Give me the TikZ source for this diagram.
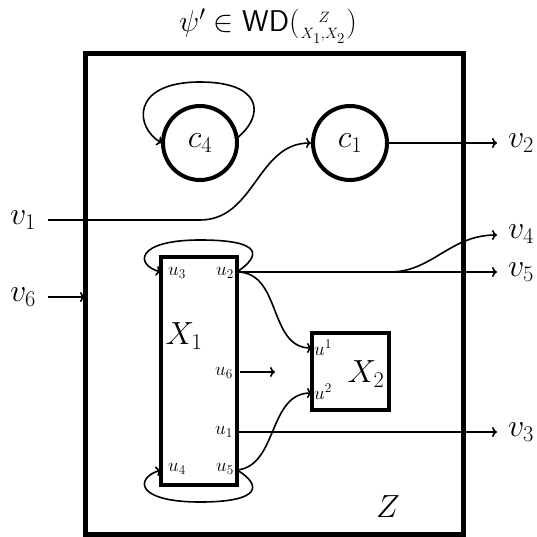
\RequirePackage{fix-cm}
\documentclass[tikz,border=0pt]{standalone}
\usepackage{amsmath}
\usetikzlibrary{arrows.meta}
\begin{document}
\begin{tikzpicture}[x=1pt,y=-1pt,
  big/.style={font=\fontsize{32}{36}\selectfont, inner sep=0pt},
  small/.style={font=\fontsize{19}{22}\selectfont, inner sep=0pt},
  circ/.style={draw, circle, line width=4pt, minimum size=74pt, inner sep=0pt, font=\fontsize{32}{36}\selectfont},
  thickbox/.style={draw, rectangle, line width=4pt, inner sep=0pt},
  wire/.style={line width=1.6pt},
  arr/.style={wire, -{To[length=5pt,width=10pt]}}]
\useasboundingbox (0,0) rectangle (536,537);
% title
\node[font=\fontsize{30}{34}\selectfont, inner sep=0pt] (title) at (268,26) {$\psi' \in \mathsf{WD}(\genfrac{}{}{0pt}{2}{\,Z}{X_1,X_2})$};
% outer box
\node[draw, rectangle, line width=5pt, minimum width=378pt, minimum height=480pt, inner sep=0pt] (Z) at (274,294) {};
\node[big] (Zlab) at (388,507) {$Z$};
% circles
\node[circ] (c4) at (200,143) {$c_4$};
\node[circ] (c1) at (350,143) {$c_1$};
% boxes
\node[thickbox, minimum width=76pt, minimum height=228pt] (X1) at (199,371) {};
\node[thickbox, minimum width=77pt, minimum height=77pt] (X2) at (350.5,371.5) {};
% labels inside boxes
\node[big] (X1lab) at (184,336) {$X_1$};
\node[big] (X2lab) at (366,374) {$X_2$};
\node[small] (lu3) at (177,273) {$u_3$};
\node[small] (lu2) at (225,273) {$u_2$};
\node[small] (lu6) at (224,373) {$u_6$};
\node[small] (lu1) at (224,432) {$u_1$};
\node[small] (lu4) at (177,469) {$u_4$};
\node[small] (lu5) at (225,469) {$u_5$};
\node[small] (lua) at (323,348) {$u^1$};
\node[small] (lub) at (323,392) {$u^2$};
% outside labels
\node[big] (v1) at (23,220) {$v_1$};
\node[big] (v6) at (23,297) {$v_6$};
\node[big] (v2) at (521,143) {$v_2$};
\node[big] (v4) at (521,234) {$v_4$};
\node[big] (v5) at (521,272) {$v_5$};
\node[big] (v3) at (521,432) {$v_3$};
% ports
\coordinate (u2) at (237,272);
\coordinate (u3) at (161,272);
\coordinate (u6) at (240,372);
\coordinate (u6e) at (275,372);
\coordinate (u1) at (237,432);
\coordinate (u4) at (161,470);
\coordinate (u5) at (237,470);
\coordinate (ua) at (312,348);
\coordinate (ub) at (312,393);
\coordinate (v1s) at (48,220);
\coordinate (v1k) at (200,220);
\coordinate (v6s) at (48,297);
\coordinate (v6e) at (85,297);
\coordinate (v2e) at (497,143);
\coordinate (v4e) at (497,235);
\coordinate (v5e) at (497,272);
\coordinate (v3e) at (497,432);
\coordinate (split) at (390,272);
\coordinate (c4o) at (236,139);
\coordinate (c4i) at (162,143);
% wires
\draw[arr] (c4o) .. controls (266,115) and (262,82) .. (200,82) .. controls (130,82) and (135,128) .. (c4i);
\draw[arr] (v1s) -- (v1k) .. controls (255,220) and (257,143) .. (c1.west);
\draw[arr] (c1.east) -- (v2e);
\draw[arr] (v6s) -- (v6e);
\draw[arr] (u2) -- (v5e);
\draw[arr] (split) .. controls (432,272) and (450,235) .. (v4e);
\draw[arr] (u2) .. controls (262,255) and (262,240) .. (200,240) .. controls (135,240) and (135,265) .. (u3);
\draw[arr] (u5) .. controls (262,485) and (262,502) .. (200,502) .. controls (135,502) and (135,478) .. (u4);
\draw[arr] (u2) .. controls (282,272) and (268,348) .. (ua);
\draw[arr] (u5) .. controls (278,466) and (268,393) .. (ub);
\draw[arr] (u6) -- (u6e);
\draw[arr] (u1) -- (v3e);
\end{tikzpicture}
\end{document}
